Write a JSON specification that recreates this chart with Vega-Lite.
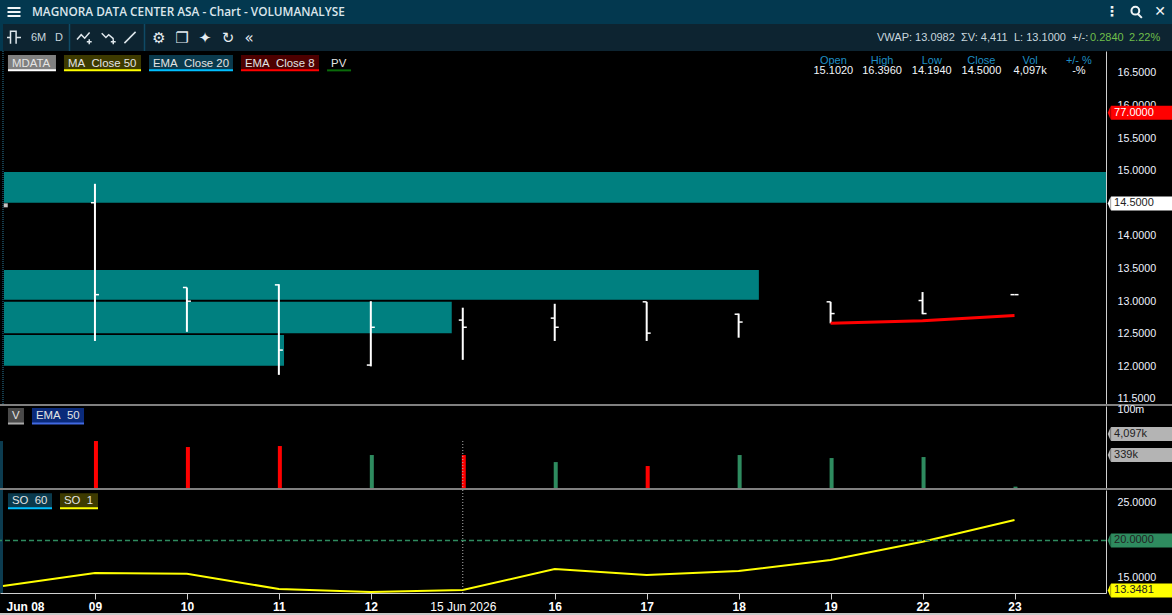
{
  "$schema": "https://vega.github.io/schema/vega-lite/v6.json",
  "background": "#000000",
  "padding": {"left": -2, "top": 0, "right": 0, "bottom": 0},
  "spacing": 0,
  "bounds": "flush",
  "resolve": {"scale": {"fill": "independent", "stroke": "independent", "color": "independent", "shape": "independent"}},
  "datasets": {
    "one": [{}],
    "titleText": [{"label": "MAGNORA DATA CENTER ASA - Chart - VOLUMANALYSE"}],
    "titleGlyphs": [{"label": "⋮"}, {"label": "✕"}],
    "titleIcons": [{"icon": "menu"}, {"icon": "search"}],
    "toolText": [
      {"label": "6M"}, {"label": "D"}, {"label": "VWAP: 13.0982"}, {"label": "ΣV: 4,411"},
      {"label": "L: 13.1000"}, {"label": "+/-:"}, {"label": "0.2840"}, {"label": "2.22%"}
    ],
    "toolGlyphs": [{"label": "⚙"}, {"label": "❐"}, {"label": "✦"}, {"label": "↻"}, {"label": "«"}],
    "toolIcons": [{"icon": "bars"}, {"icon": "up"}, {"icon": "down"}, {"icon": "line"}],
    "zones": [
      {"from": 0.011, "to": 11.995, "top": 14.98, "bottom": 14.51},
      {"from": 0.011, "to": 8.22, "top": 13.48, "bottom": 13.02},
      {"from": 0.011, "to": 4.88, "top": 12.99, "bottom": 12.51},
      {"from": 0.011, "to": 3.056, "top": 12.48, "bottom": 12.01}
    ],
    "ohlc": [
      {"session": 1, "open": 14.51, "high": 14.8, "low": 12.39, "close": 13.1},
      {"session": 2, "open": 13.21, "high": 13.21, "low": 12.53, "close": 13.0},
      {"session": 3, "open": 13.25, "high": 13.26, "low": 11.87, "close": 12.25},
      {"session": 4, "open": 12.02, "high": 13.0, "low": 12.0, "close": 12.6},
      {"session": 5, "open": 12.71, "high": 12.9, "low": 12.1, "close": 12.6},
      {"session": 6, "open": 12.74, "high": 12.96, "low": 12.39, "close": 12.6},
      {"session": 7, "open": 12.99, "high": 12.99, "low": 12.39, "close": 12.51},
      {"session": 8, "open": 12.8, "high": 12.81, "low": 12.44, "close": 12.68},
      {"session": 9, "open": 12.99, "high": 12.99, "low": 12.66, "close": 12.81},
      {"session": 10, "open": 13.01, "high": 13.14, "low": 12.8, "close": 12.81},
      {"session": 11, "open": 13.1, "high": 13.1, "low": 13.1, "close": 13.1}
    ],
    "ema8": [
      {"session": 9, "ema": 12.66},
      {"session": 10, "ema": 12.7},
      {"session": 11, "ema": 12.78}
    ],
    "stats": [
      {"name": "Open", "value": "15.1020"},
      {"name": "High", "value": "16.3960"},
      {"name": "Low", "value": "14.1940"},
      {"name": "Close", "value": "14.5000"},
      {"name": "Vol", "value": "4,097k"},
      {"name": "+/- %", "value": "-%"}
    ],
    "chipsMain": [
      {"label": "MDATA"}, {"label": "MA  Close 50"}, {"label": "EMA  Close 20"},
      {"label": "EMA  Close 8"}, {"label": "PV"}
    ],
    "tagsMain": [{"label": "77.0000", "at": 15.89}, {"label": "14.5000", "at": 14.5}],
    "volume": [
      {"session": 1, "volume": 1783000, "dir": "down"},
      {"session": 2, "volume": 875000, "dir": "down"},
      {"session": 3, "volume": 985000, "dir": "down"},
      {"session": 4, "volume": 339000, "dir": "up"},
      {"session": 5, "volume": 339000, "dir": "down"},
      {"session": 6, "volume": 147000, "dir": "up"},
      {"session": 7, "volume": 92000, "dir": "down"},
      {"session": 8, "volume": 339000, "dir": "up"},
      {"session": 9, "volume": 237000, "dir": "up"},
      {"session": 10, "volume": 267000, "dir": "up"},
      {"session": 11, "volume": 8000, "dir": "up"}
    ],
    "chipsVol": [{"label": "V"}, {"label": "EMA  50"}],
    "tagsVol": [{"label": "4,097k", "at": 4097000}, {"label": "339k", "at": 339000}],
    "so": [
      {"session": 0, "so": 13.93},
      {"session": 1, "so": 15.67},
      {"session": 2, "so": 15.57},
      {"session": 3, "so": 13.53},
      {"session": 4, "so": 13.13},
      {"session": 5, "so": 13.4},
      {"session": 6, "so": 16.2},
      {"session": 7, "so": 15.4},
      {"session": 8, "so": 15.93},
      {"session": 9, "so": 17.4},
      {"session": 10, "so": 19.84},
      {"session": 11, "so": 22.73}
    ],
    "chipsSo": [{"label": "SO  60"}, {"label": "SO  1"}],
    "tagsSo": [{"label": "20.0000", "at": 20}, {"label": "13.3481", "at": 13.3481}]
  },
  "vconcat": [
    {
      "width": 1172,
      "height": 24,
      "view": {"fill": "#03384f", "stroke": null},
      "layer": [
        {
          "data": {"name": "titleText"},
          "mark": {"type": "text", "align": "left", "font": "Open Sans", "fontWeight": 600, "fontSize": 11.8, "color": "#dbe6ec"},
          "encoding": {
            "x": {"datum": 32, "type": "quantitative", "scale": {"domain": [0, 1172]}, "axis": null},
            "text": {"field": "label"}
          }
        },
        {
          "data": {"name": "titleGlyphs"},
          "transform": [{"calculate": "{'⋮':1112,'✕':1160}[datum.label]", "as": "at"}],
          "mark": {"type": "text", "font": "DejaVu Sans", "fontSize": 14, "fontWeight": "bold", "color": "#f0f4f6"},
          "encoding": {
            "x": {"field": "at", "type": "quantitative", "scale": {"domain": [0, 1172]}, "axis": null},
            "text": {"field": "label"}
          }
        },
        {
          "data": {"name": "titleIcons"},
          "transform": [{"calculate": "{'menu':14,'search':1136}[datum.icon]", "as": "at"}],
          "mark": {"type": "point", "filled": false, "size": 169, "strokeWidth": 2, "opacity": 1, "color": "#f0f4f6"},
          "encoding": {
            "x": {"field": "at", "type": "quantitative", "scale": {"domain": [0, 1172]}, "axis": null},
            "shape": {
              "field": "icon",
              "legend": null,
              "scale": {
                "domain": ["menu", "search"],
                "range": ["M-1,-0.6H1M-1,0H1M-1,0.6H1", "M-.7,-.2A.6,.6 0 1 1 .5,-.2A.6,.6 0 1 1 -.7,-.2M.3,.3L.9,.9"]
              }
            }
          }
        }
      ]
    },
    {
      "width": 1172,
      "height": 27,
      "view": {"fill": "#0d2431", "stroke": null},
      "layer": [
        {
          "data": {"name": "one"},
          "mark": {"type": "rect", "color": "#03384f"},
          "encoding": {
            "x": {"datum": 0, "type": "quantitative", "scale": {"domain": [0, 1172]}, "axis": null},
            "x2": {"datum": 3}
          }
        },
        {
          "data": {"name": "one"},
          "mark": {"type": "rule", "color": "#0f4a66", "strokeWidth": 1.5},
          "encoding": {"x": {"datum": 69.5, "type": "quantitative", "scale": {"domain": [0, 1172]}, "axis": null}}
        },
        {
          "data": {"name": "one"},
          "mark": {"type": "rule", "color": "#0f4a66", "strokeWidth": 1.5},
          "encoding": {"x": {"datum": 144.5, "type": "quantitative", "scale": {"domain": [0, 1172]}, "axis": null}}
        },
        {
          "data": {"name": "toolText"},
          "transform": [{"calculate": "{'6M':31,'D':55,'VWAP: 13.0982':877,'ΣV: 4,411':961,'L: 13.1000':1014,'+/-:':1072,'0.2840':1090,'2.22%':1129}[datum.label]", "as": "at"}],
          "mark": {"type": "text", "align": "left", "fontSize": 11},
          "encoding": {
            "x": {"field": "at", "type": "quantitative", "scale": {"domain": [0, 1172]}, "axis": null},
            "text": {"field": "label"},
            "color": {
              "condition": {"test": "datum.label == '0.2840' || datum.label == '2.22%'", "value": "#6fbf4a"},
              "value": "#c8d6de"
            }
          }
        },
        {
          "data": {"name": "toolGlyphs"},
          "transform": [{"calculate": "{'⚙':159,'❐':182,'✦':205,'↻':228,'«':249}[datum.label]", "as": "at"}],
          "mark": {"type": "text", "font": "DejaVu Sans", "fontSize": 15, "color": "#e6edf2"},
          "encoding": {
            "x": {"field": "at", "type": "quantitative", "scale": {"domain": [0, 1172]}, "axis": null},
            "text": {"field": "label"}
          }
        },
        {
          "data": {"name": "toolIcons"},
          "transform": [{"calculate": "{'bars':14,'up':84,'down':108,'line':130}[datum.icon]", "as": "at"}],
          "mark": {"type": "point", "filled": false, "size": 196, "strokeWidth": 1.5, "opacity": 1, "color": "#dfe7ec"},
          "encoding": {
            "x": {"field": "at", "type": "quantitative", "scale": {"domain": [0, 1172]}, "axis": null},
            "shape": {
              "field": "icon",
              "legend": null,
              "scale": {
                "domain": ["bars", "up", "down", "line"],
                "range": [
                  "M-1,0H-.5V-.9H.3V.9M.3,0H1M-.5,-.9V.9",
                  "M-1,.3L-.4,-.4L.1,.1L.8,-.7M.4,.6H1.1M.75,.25V.95",
                  "M-.9,-.6L-.3,0L.1,-.4L.8,.2M.4,.6H1.1M.75,.25V.95",
                  "M-.8,.8L.8,-.8"
                ]
              }
            }
          }
        }
      ]
    },
    {
      "width": 1106,
      "height": 353,
      "layer": [
        {
          "data": {"name": "one"},
          "mark": {"type": "rule", "color": "#2a7a9a", "strokeDash": [1, 1]},
          "encoding": {
            "x": {"datum": 0, "type": "quantitative", "scale": {"domain": [-0.0326, 11.995]}, "axis": null}
          }
        },
        {
          "data": {"name": "zones"},
          "mark": {"type": "rect", "color": "#008080"},
          "encoding": {
            "x": {"field": "from", "type": "quantitative", "scale": {"domain": [-0.0326, 11.995]}, "axis": null},
            "x2": {"field": "to"},
            "y": {
              "field": "top",
              "type": "quantitative",
              "scale": {"domain": [11.423, 16.837]},
              "axis": {
                "orient": "right",
                "title": null,
                "values": [11.5, 12, 12.5, 13, 13.5, 14, 14.5, 15, 15.5, 16, 16.5],
                "tickCount": 12,
                "format": ".4f",
                "ticks": false,
                "grid": false,
                "labelPadding": 11,
                "labelBound": false,
                "labelFlush": false
              }
            },
            "y2": {"field": "bottom"}
          }
        },
        {
          "data": {"name": "ohlc"},
          "layer": [
            {
              "mark": {"type": "rule", "color": "#ffffff", "strokeWidth": 2},
              "encoding": {
                "x": {"field": "session", "type": "quantitative", "scale": {"domain": [-0.0326, 11.995]}, "axis": null},
                "y": {"field": "low", "type": "quantitative", "scale": {"domain": [11.423, 16.837]}},
                "y2": {"field": "high"}
              }
            },
            {
              "mark": {"type": "tick", "orient": "horizontal", "color": "#ffffff", "size": 4, "thickness": 1.5, "xOffset": -2, "opacity": 1},
              "encoding": {
                "x": {"field": "session", "type": "quantitative", "scale": {"domain": [-0.0326, 11.995]}, "axis": null},
                "y": {"field": "open", "type": "quantitative", "scale": {"domain": [11.423, 16.837]}}
              }
            },
            {
              "mark": {"type": "tick", "orient": "horizontal", "color": "#ffffff", "size": 4, "thickness": 1.5, "xOffset": 2, "opacity": 1},
              "encoding": {
                "x": {"field": "session", "type": "quantitative", "scale": {"domain": [-0.0326, 11.995]}, "axis": null},
                "y": {"field": "close", "type": "quantitative", "scale": {"domain": [11.423, 16.837]}}
              }
            }
          ]
        },
        {
          "data": {"name": "ema8"},
          "mark": {"type": "line", "color": "#ff0000", "strokeWidth": 3},
          "encoding": {
            "x": {"field": "session", "type": "quantitative", "scale": {"domain": [-0.0326, 11.995]}, "axis": null},
            "y": {"field": "ema", "type": "quantitative", "scale": {"domain": [11.423, 16.837]}}
          }
        },
        {
          "data": {"name": "one"},
          "mark": {"type": "point", "shape": "square", "filled": true, "size": 16, "color": "#c4c4c4", "opacity": 1},
          "encoding": {
            "x": {"datum": 0.03, "type": "quantitative", "scale": {"domain": [-0.0326, 11.995]}, "axis": null},
            "y": {"datum": 14.47, "type": "quantitative", "scale": {"domain": [11.423, 16.837]}}
          }
        },
        {
          "data": {"name": "chipsMain"},
          "transform": [
            {"calculate": "{'MDATA':0.054,'MA  Close 50':0.663,'EMA  Close 20':1.588,'EMA  Close 8':2.588,'PV':3.524}[datum.label]", "as": "from"},
            {"calculate": "{'MDATA':0.576,'MA  Close 50':1.501,'EMA  Close 20':2.501,'EMA  Close 8':3.437,'PV':3.785}[datum.label]", "as": "to"},
            {"calculate": "replace(datum.label, '  ', '\u00a0\u00a0')", "as": "shown"}
          ],
          "layer": [
            {
              "mark": {"type": "rect"},
              "encoding": {
                "x": {"field": "from", "type": "quantitative", "scale": {"domain": [-0.0326, 11.995]}, "axis": null},
                "x2": {"field": "to"},
                "y": {"datum": 16.776, "type": "quantitative", "scale": {"domain": [11.423, 16.837]}},
                "y2": {"datum": 16.54},
                "fill": {
                  "field": "label",
                  "legend": null,
                  "scale": {
                    "domain": ["MDATA", "MA  Close 50", "EMA  Close 20", "EMA  Close 8", "PV", "77.0000", "14.5000"],
                    "range": ["#808080", "#3d3a00", "#0a3a4d", "#4d0000", "#000000", "#ff0000", "#ffffff"]
                  }
                }
              }
            },
            {
              "mark": {"type": "rule", "strokeWidth": 2},
              "encoding": {
                "x": {"field": "from", "type": "quantitative", "scale": {"domain": [-0.0326, 11.995]}, "axis": null},
                "x2": {"field": "to"},
                "y": {"datum": 16.54, "type": "quantitative", "scale": {"domain": [11.423, 16.837]}},
                "stroke": {
                  "field": "label",
                  "legend": null,
                  "scale": {
                    "domain": ["MDATA", "MA  Close 50", "EMA  Close 20", "EMA  Close 8", "PV"],
                    "range": ["#ffffff", "#ffff00", "#00bfff", "#ff0000", "#0a6b0a"]
                  }
                }
              }
            },
            {
              "mark": {"type": "text", "align": "left", "xOffset": 4, "fontSize": 11.4, "color": "#e4e4e4"},
              "encoding": {
                "x": {"field": "from", "type": "quantitative", "scale": {"domain": [-0.0326, 11.995]}, "axis": null},
                "y": {"datum": 16.645, "type": "quantitative", "scale": {"domain": [11.423, 16.837]}},
                "text": {"field": "shown"}
              }
            }
          ]
        },
        {
          "data": {"name": "stats"},
          "transform": [{"calculate": "{'Open':9.03,'High':9.56,'Low':10.1,'Close':10.64,'Vol':11.17,'+/- %':11.7}[datum.name]", "as": "at"}],
          "layer": [
            {
              "mark": {"type": "text", "fontSize": 11, "color": "#1f8fc4"},
              "encoding": {
                "x": {"field": "at", "type": "quantitative", "scale": {"domain": [-0.0326, 11.995]}, "axis": null},
                "y": {"datum": 16.685, "type": "quantitative", "scale": {"domain": [11.423, 16.837]}},
                "text": {"field": "name"}
              }
            },
            {
              "mark": {"type": "text", "fontSize": 11, "color": "#f2f6fa"},
              "encoding": {
                "x": {"field": "at", "type": "quantitative", "scale": {"domain": [-0.0326, 11.995]}, "axis": null},
                "y": {"datum": 16.525, "type": "quantitative", "scale": {"domain": [11.423, 16.837]}},
                "text": {"field": "value"}
              }
            }
          ]
        },
        {
          "data": {"name": "tagsMain"},
          "layer": [
            {
              "mark": {"type": "rect", "height": 14},
              "encoding": {
                "x": {"datum": 12.05, "type": "quantitative", "scale": {"domain": [-0.0326, 11.995]}, "axis": null},
                "x2": {"datum": 12.75},
                "y": {"field": "at", "type": "quantitative", "scale": {"domain": [11.423, 16.837]}},
                "fill": {
                  "field": "label",
                  "legend": null,
                  "scale": {
                    "domain": ["MDATA", "MA  Close 50", "EMA  Close 20", "EMA  Close 8", "PV", "77.0000", "14.5000"],
                    "range": ["#808080", "#3d3a00", "#0a3a4d", "#4d0000", "#000000", "#ff0000", "#ffffff"]
                  }
                }
              }
            },
            {
              "mark": {"type": "point", "shape": "M.21,-1L-.21,0L.21,1Z", "filled": true, "size": 196, "opacity": 1},
              "encoding": {
                "x": {"datum": 12.03, "type": "quantitative", "scale": {"domain": [-0.0326, 11.995]}, "axis": null},
                "y": {"field": "at", "type": "quantitative", "scale": {"domain": [11.423, 16.837]}},
                "fill": {
                  "field": "label",
                  "legend": null,
                  "scale": {
                    "domain": ["MDATA", "MA  Close 50", "EMA  Close 20", "EMA  Close 8", "PV", "77.0000", "14.5000"],
                    "range": ["#808080", "#3d3a00", "#0a3a4d", "#4d0000", "#000000", "#ff0000", "#ffffff"]
                  }
                }
              }
            },
            {
              "mark": {"type": "text", "align": "left", "fontSize": 11},
              "encoding": {
                "x": {"datum": 12.083, "type": "quantitative", "scale": {"domain": [-0.0326, 11.995]}, "axis": null},
                "y": {"field": "at", "type": "quantitative", "scale": {"domain": [11.423, 16.837]}},
                "text": {"field": "label"},
                "color": {"condition": {"test": "datum.label == '77.0000'", "value": "#ffffff"}, "value": "#222222"}
              }
            }
          ]
        }
      ]
    },
    {
      "width": 1172,
      "height": 2,
      "view": {"fill": "#808080", "stroke": null},
      "data": {"name": "one"},
      "mark": {"type": "rule", "opacity": 0},
      "encoding": {}
    },
    {
      "width": 1106,
      "height": 82,
      "layer": [
        {
          "data": {"name": "one"},
          "mark": {"type": "rect", "color": "#0c3c50"},
          "encoding": {
            "x": {"datum": -0.0326, "type": "quantitative", "scale": {"domain": [-0.0326, 11.995]}, "axis": null},
            "x2": {"datum": 0},
            "y": {"datum": 1783000, "type": "quantitative", "scale": {"type": "log", "domain": [6800, 113500000]}},
            "y2": {"datum": 6800}
          }
        },
        {
          "data": {"name": "volume"},
          "mark": {"type": "rule", "strokeWidth": 4, "xOffset": 1},
          "encoding": {
            "x": {"field": "session", "type": "quantitative", "scale": {"domain": [-0.0326, 11.995]}, "axis": null},
            "y": {
              "field": "volume",
              "type": "quantitative",
              "scale": {"type": "log", "domain": [6800, 113500000]},
              "axis": {
                "orient": "right",
                "title": null,
                "values": [100000000],
                "labelExpr": "'100m'",
                "ticks": false,
                "grid": false,
                "labelPadding": 11,
                "labelOffset": 2,
                "labelBound": false,
                "labelFlush": false
              }
            },
            "y2": {"datum": 6800},
            "stroke": {
              "field": "dir",
              "legend": null,
              "scale": {"domain": ["up", "down"], "range": ["#2e8b5f", "#ff0000"]}
            }
          }
        },
        {
          "data": {"name": "one"},
          "mark": {"type": "rule", "color": "#b0b0b0", "strokeDash": [1, 2]},
          "encoding": {
            "x": {"datum": 5, "type": "quantitative", "scale": {"domain": [-0.0326, 11.995]}, "axis": null},
            "y": {"datum": 1783000, "type": "quantitative", "scale": {"type": "log", "domain": [6800, 113500000]}},
            "y2": {"datum": 6800}
          }
        },
        {
          "data": {"name": "chipsVol"},
          "transform": [
            {"calculate": "{'V':0.054,'EMA  50':0.315}[datum.label]", "as": "from"},
            {"calculate": "{'V':0.228,'EMA  50':0.881}[datum.label]", "as": "to"},
            {"calculate": "replace(datum.label, '  ', '\u00a0\u00a0')", "as": "shown"}
          ],
          "layer": [
            {
              "mark": {"type": "rect"},
              "encoding": {
                "x": {"field": "from", "type": "quantitative", "scale": {"domain": [-0.0326, 11.995]}, "axis": null},
                "x2": {"field": "to"},
                "y": {"datum": 89500000, "type": "quantitative", "scale": {"type": "log", "domain": [6800, 113500000]}},
                "y2": {"datum": 14200000},
                "fill": {
                  "field": "label",
                  "legend": null,
                  "scale": {
                    "domain": ["V", "EMA  50", "4,097k", "339k"],
                    "range": ["#4a4a4a", "#0a2a7a", "#b4b4b4", "#b4b4b4"]
                  }
                }
              }
            },
            {
              "mark": {"type": "rule", "strokeWidth": 2},
              "encoding": {
                "x": {"field": "from", "type": "quantitative", "scale": {"domain": [-0.0326, 11.995]}, "axis": null},
                "x2": {"field": "to"},
                "y": {"datum": 14200000, "type": "quantitative", "scale": {"type": "log", "domain": [6800, 113500000]}},
                "color": {
                  "field": "label",
                  "legend": null,
                  "scale": {"domain": ["V", "EMA  50"], "range": ["#aaaaaa", "#4169e1"]}
                }
              }
            },
            {
              "mark": {"type": "text", "align": "left", "xOffset": 4, "fontSize": 11.4, "color": "#e4e4e4"},
              "encoding": {
                "x": {"field": "from", "type": "quantitative", "scale": {"domain": [-0.0326, 11.995]}, "axis": null},
                "y": {"datum": 34700000, "type": "quantitative", "scale": {"type": "log", "domain": [6800, 113500000]}},
                "text": {"field": "shown"}
              }
            }
          ]
        },
        {
          "data": {"name": "tagsVol"},
          "layer": [
            {
              "mark": {"type": "rect", "height": 14},
              "encoding": {
                "x": {"datum": 12.05, "type": "quantitative", "scale": {"domain": [-0.0326, 11.995]}, "axis": null},
                "x2": {"datum": 12.75},
                "y": {"field": "at", "type": "quantitative", "scale": {"type": "log", "domain": [6800, 113500000]}},
                "fill": {
                  "field": "label",
                  "legend": null,
                  "scale": {
                    "domain": ["V", "EMA  50", "4,097k", "339k"],
                    "range": ["#4a4a4a", "#0a2a7a", "#b4b4b4", "#b4b4b4"]
                  }
                }
              }
            },
            {
              "mark": {"type": "point", "shape": "M.21,-1L-.21,0L.21,1Z", "filled": true, "size": 196, "opacity": 1},
              "encoding": {
                "x": {"datum": 12.03, "type": "quantitative", "scale": {"domain": [-0.0326, 11.995]}, "axis": null},
                "y": {"field": "at", "type": "quantitative", "scale": {"type": "log", "domain": [6800, 113500000]}},
                "fill": {
                  "field": "label",
                  "legend": null,
                  "scale": {
                    "domain": ["V", "EMA  50", "4,097k", "339k"],
                    "range": ["#4a4a4a", "#0a2a7a", "#b4b4b4", "#b4b4b4"]
                  }
                }
              }
            },
            {
              "mark": {"type": "text", "align": "left", "fontSize": 11, "color": "#222222"},
              "encoding": {
                "x": {"datum": 12.083, "type": "quantitative", "scale": {"domain": [-0.0326, 11.995]}, "axis": null},
                "y": {"field": "at", "type": "quantitative", "scale": {"type": "log", "domain": [6800, 113500000]}},
                "text": {"field": "label"}
              }
            }
          ]
        }
      ]
    },
    {
      "width": 1172,
      "height": 2,
      "view": {"fill": "#808080", "stroke": null},
      "data": {"name": "one"},
      "mark": {"type": "rule", "opacity": 0},
      "encoding": {}
    },
    {
      "width": 1106,
      "height": 103,
      "layer": [
        {
          "data": {"name": "one"},
          "mark": {"type": "rect", "color": "#0c3c50"},
          "encoding": {
            "x": {
              "datum": -0.0326,
              "type": "quantitative",
              "scale": {"domain": [-0.0326, 11.995]},
              "axis": {
                "title": null,
                "values": [0, 1, 2, 3, 4, 5, 6, 7, 8, 9, 10, 11],
                "tickCount": 12,
                "labelExpr": "['Jun 08','09','10','11','12','15 Jun 2026','16','17','18','19','22','23'][datum.value]",
                "grid": false,
                "tickSize": 6,
                "tickColor": "#d0d0d0",
                "tickOpacity": {"condition": {"test": "datum.value == 0 || datum.value == 5", "value": 0}, "value": 1},
                "labelFontSize": 12,
                "labelColor": "#ffffff",
                "labelFontWeight": {"condition": {"test": "datum.value == 5", "value": "normal"}, "value": "bold"},
                "labelOffset": {"condition": {"test": "datum.value == 0", "value": 22}, "value": 0},
                "labelPadding": 2,
                "labelBound": false,
                "labelFlush": false
              }
            },
            "x2": {"datum": 0}
          }
        },
        {
          "data": {"name": "so"},
          "mark": {"type": "line", "color": "#ffff00", "strokeWidth": 2},
          "encoding": {
            "x": {"field": "session", "type": "quantitative", "scale": {"domain": [-0.0326, 11.995]}},
            "y": {
              "field": "so",
              "type": "quantitative",
              "scale": {"domain": [13.0, 26.73]},
              "axis": {
                "orient": "right",
                "title": null,
                "values": [15, 20, 25],
                "format": ".4f",
                "ticks": false,
                "grid": false,
                "labelPadding": 11,
                "labelBound": false,
                "labelFlush": false
              }
            }
          }
        },
        {
          "data": {"name": "one"},
          "mark": {"type": "rule", "color": "#2e8b5f", "strokeWidth": 1.5, "strokeDash": [5, 3]},
          "encoding": {"y": {"datum": 20, "type": "quantitative", "scale": {"domain": [13.0, 26.73]}}}
        },
        {
          "data": {"name": "one"},
          "mark": {"type": "rule", "color": "#b0b0b0", "strokeDash": [1, 2]},
          "encoding": {"x": {"datum": 5, "type": "quantitative", "scale": {"domain": [-0.0326, 11.995]}}}
        },
        {
          "data": {"name": "chipsSo"},
          "transform": [
            {"calculate": "{'SO  60':0.054,'SO  1':0.62}[datum.label]", "as": "from"},
            {"calculate": "{'SO  60':0.533,'SO  1':1.033}[datum.label]", "as": "to"},
            {"calculate": "replace(datum.label, '  ', '\u00a0\u00a0')", "as": "shown"}
          ],
          "layer": [
            {
              "mark": {"type": "rect"},
              "encoding": {
                "x": {"field": "from", "type": "quantitative", "scale": {"domain": [-0.0326, 11.995]}},
                "x2": {"field": "to"},
                "y": {"datum": 26.3, "type": "quantitative", "scale": {"domain": [13.0, 26.73]}},
                "y2": {"datum": 24.3},
                "fill": {
                  "field": "label",
                  "legend": null,
                  "scale": {
                    "domain": ["SO  60", "SO  1", "20.0000", "13.3481"],
                    "range": ["#0a3a4d", "#3d3a00", "#2e8b5f", "#ffff00"]
                  }
                }
              }
            },
            {
              "mark": {"type": "rule", "strokeWidth": 2},
              "encoding": {
                "x": {"field": "from", "type": "quantitative", "scale": {"domain": [-0.0326, 11.995]}},
                "x2": {"field": "to"},
                "y": {"datum": 24.3, "type": "quantitative", "scale": {"domain": [13.0, 26.73]}},
                "color": {
                  "field": "label",
                  "legend": null,
                  "scale": {"domain": ["SO  60", "SO  1"], "range": ["#00bfff", "#ffff00"]}
                }
              }
            },
            {
              "mark": {"type": "text", "align": "left", "xOffset": 4, "fontSize": 11.4, "color": "#e4e4e4"},
              "encoding": {
                "x": {"field": "from", "type": "quantitative", "scale": {"domain": [-0.0326, 11.995]}},
                "y": {"datum": 25.25, "type": "quantitative", "scale": {"domain": [13.0, 26.73]}},
                "text": {"field": "shown"}
              }
            }
          ]
        },
        {
          "data": {"name": "tagsSo"},
          "layer": [
            {
              "mark": {"type": "rect", "height": 14},
              "encoding": {
                "x": {"datum": 12.05, "type": "quantitative", "scale": {"domain": [-0.0326, 11.995]}},
                "x2": {"datum": 12.75},
                "y": {"field": "at", "type": "quantitative", "scale": {"domain": [13.0, 26.73]}},
                "fill": {
                  "field": "label",
                  "legend": null,
                  "scale": {
                    "domain": ["SO  60", "SO  1", "20.0000", "13.3481"],
                    "range": ["#0a3a4d", "#3d3a00", "#2e8b5f", "#ffff00"]
                  }
                }
              }
            },
            {
              "mark": {"type": "point", "shape": "M.21,-1L-.21,0L.21,1Z", "filled": true, "size": 196, "opacity": 1},
              "encoding": {
                "x": {"datum": 12.03, "type": "quantitative", "scale": {"domain": [-0.0326, 11.995]}},
                "y": {"field": "at", "type": "quantitative", "scale": {"domain": [13.0, 26.73]}},
                "fill": {
                  "field": "label",
                  "legend": null,
                  "scale": {
                    "domain": ["SO  60", "SO  1", "20.0000", "13.3481"],
                    "range": ["#0a3a4d", "#3d3a00", "#2e8b5f", "#ffff00"]
                  }
                }
              }
            },
            {
              "mark": {"type": "text", "align": "left", "fontSize": 11, "color": "#222222"},
              "encoding": {
                "x": {"datum": 12.083, "type": "quantitative", "scale": {"domain": [-0.0326, 11.995]}},
                "y": {"field": "at", "type": "quantitative", "scale": {"domain": [13.0, 26.73]}},
                "text": {"field": "label"}
              }
            }
          ]
        }
      ]
    },
    {
      "width": 1172,
      "height": 20,
      "data": {"name": "one"},
      "mark": {"type": "rule", "opacity": 0},
      "encoding": {}
    },
    {
      "width": 1172,
      "height": 2,
      "view": {"fill": "#c8c8c8", "stroke": null},
      "data": {"name": "one"},
      "mark": {"type": "rule", "opacity": 0},
      "encoding": {}
    }
  ],
  "config": {
    "font": "Liberation Sans",
    "view": {"stroke": null},
    "axis": {
      "domainColor": "#d0d0d0",
      "labelFont": "Liberation Sans",
      "labelColor": "#eef3ff",
      "labelFontSize": 10.7,
      "labelOverlap": false
    }
  }
}
